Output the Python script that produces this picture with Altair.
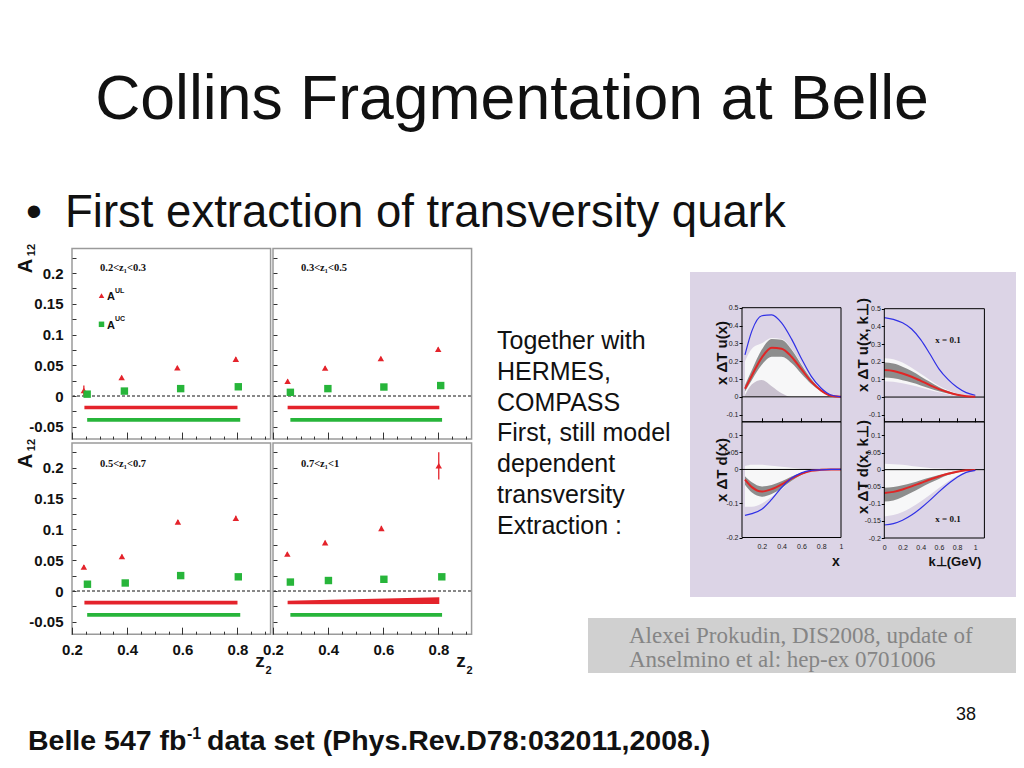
import altair as alt
import pandas as pd

# ---------------- canvas ----------------
W, H = 1008, 748
M = 8


def cx(p):
    return round(p - M, 2)


def cy(p):
    return round(p - M, 2)


SANS = "Liberation Sans"
SERIF = "Liberation Serif"
INK = "#111111"
RED = "#e4232b"
GREEN = "#27b53a"
FRAME = "#9a9a9a"

# ---------------- text content ----------------
title_text = "Collins Fragmentation at Belle"
bullet_text = "First extraction of transversity quark"
side_text = "Together with\nHERMES,\nCOMPASS\nFirst, still model\ndependent\ntransversity\nExtraction :"
cite_lines = ["Alexei Prokudin, DIS2008, update of", "Anselmino et al: hep-ex 0701006"]
page_no = "38"
foot_parts = ["Belle 547 fb", "-1", "data set (Phys.Rev.D78:032011,2008.)"]

# ---------------- Belle A12 data ----------------
panel_titles = ["0.2<z₁<0.3", "0.3<z₁<0.5", "0.5<z₁<0.7", "0.7<z₁<1"]
ul_z = [[0.243, 0.380, 0.582, 0.794], [0.253, 0.389, 0.591, 0.799],
        [0.243, 0.381, 0.584, 0.794], [0.252, 0.389, 0.593, 0.801]]
ul_a = [[0.009, 0.030, 0.046, 0.060], [0.024, 0.0455, 0.061, 0.076],
        [0.039, 0.056, 0.112, 0.118], [0.060, 0.0785, 0.1016, 0.203]]
ul_err = [[0.008, 0.003, 0.003, 0.003], [0.003, 0.003, 0.003, 0.003],
          [0.003, 0.003, 0.003, 0.004], [0.003, 0.003, 0.004, 0.022]]
uc_z = [[0.255, 0.390, 0.594, 0.803], [0.263, 0.399, 0.602, 0.808],
        [0.256, 0.393, 0.594, 0.803], [0.263, 0.401, 0.602, 0.812]]
uc_a = [[0.003, 0.008, 0.012, 0.015], [0.006, 0.012, 0.0146, 0.017],
        [0.011, 0.013, 0.025, 0.023], [0.0145, 0.017, 0.019, 0.023]]
red_band_z = [[0.245, 0.800], [0.253, 0.803], [0.245, 0.800], [0.253, 0.803]]
red_band_lo = [[-0.0217, -0.0217], [-0.0217, -0.0217], [-0.0217, -0.0217], [-0.0216, -0.0210]]
red_band_hi = [[-0.0157, -0.0157], [-0.0157, -0.0157], [-0.0157, -0.0157], [-0.0157, -0.0103]]
green_band_z = [[0.255, 0.810], [0.263, 0.813], [0.255, 0.810], [0.263, 0.813]]
green_band_lo = [[-0.0418, -0.0418]] * 4
green_band_hi = [[-0.0358, -0.0358]] * 4

belle_a_labels = [-0.05, 0, 0.05, 0.1, 0.15, 0.2]
belle_a_ticks = [-0.05, -0.025, 0.0, 0.025, 0.05, 0.075, 0.1, 0.125, 0.15, 0.175, 0.2, 0.225]
belle_z_labels = [0.2, 0.4, 0.6, 0.8]
belle_z_ticks = [0.2, 0.25, 0.3, 0.35, 0.4, 0.45, 0.5, 0.55, 0.6, 0.65, 0.7, 0.75, 0.8, 0.85, 0.9]
ZDOM = [0.2, 0.92]
ADOM = [-0.07, 0.24]

# ---------------- transversity curves ----------------
xg = [0.03, 0.1, 0.2, 0.3, 0.4, 0.5, 0.6, 0.7, 0.8, 0.9, 1.0]
kg = [0.0, 0.1, 0.2, 0.3, 0.4, 0.5, 0.6, 0.7, 0.8, 0.9, 1.0]

ux_blue = [0.235, 0.37, 0.455, 0.46, 0.415, 0.325, 0.215, 0.115, 0.048, 0.01, 0.0]
ux_red = [0.045, 0.12, 0.22, 0.275, 0.27, 0.225, 0.155, 0.085, 0.035, 0.006, 0.0]
ux_dark_hi = [0.065, 0.15, 0.265, 0.325, 0.32, 0.265, 0.18, 0.10, 0.04, 0.007, 0.0]
ux_dark_lo = [0.03, 0.095, 0.18, 0.225, 0.225, 0.19, 0.13, 0.072, 0.03, 0.005, 0.0]
ux_light_hi = [0.2, 0.27, 0.30, 0.33, 0.325, 0.27, 0.185, 0.105, 0.043, 0.008, 0.0]
ux_light_lo = [0.0, 0.0, 0.0, 0.0, 0.0, 0.0, 0.0, 0.0, 0.0, 0.0, 0.0]
ux_hump = [0.01, 0.07, 0.095, 0.06, 0.02, 0.0, 0.0, 0.0, 0.0, 0.0, 0.0]

uk_blue = [0.45, 0.44, 0.42, 0.385, 0.325, 0.245, 0.16, 0.10, 0.055, 0.025, 0.01]
uk_red = [0.153, 0.148, 0.133, 0.115, 0.092, 0.068, 0.045, 0.027, 0.013, 0.005, 0.002]
uk_dark_hi = [0.195, 0.19, 0.172, 0.147, 0.117, 0.086, 0.057, 0.034, 0.017, 0.007, 0.002]
uk_dark_lo = [0.11, 0.106, 0.095, 0.082, 0.066, 0.049, 0.033, 0.02, 0.01, 0.004, 0.001]
uk_light_hi = [0.22, 0.214, 0.195, 0.166, 0.132, 0.097, 0.064, 0.038, 0.019, 0.008, 0.002]
uk_light_lo = [0.09, 0.087, 0.078, 0.067, 0.054, 0.04, 0.027, 0.016, 0.008, 0.003, 0.001]

dx_blue = [-0.135, -0.13, -0.117, -0.088, -0.053, -0.026, -0.01, -0.003, -0.001, 0.0, 0.0]
dx_red = [-0.03, -0.052, -0.065, -0.058, -0.044, -0.027, -0.013, -0.004, -0.001, 0.0, 0.0]
dx_dark_hi = [-0.02, -0.038, -0.05, -0.046, -0.035, -0.021, -0.01, -0.003, -0.001, 0.0, 0.0]
dx_dark_lo = [-0.045, -0.068, -0.08, -0.072, -0.055, -0.034, -0.016, -0.005, -0.001, 0.0, 0.0]
dx_light_hi = [0.01, 0.014, 0.014, 0.011, 0.008, 0.005, 0.002, 0.001, 0.0, 0.0, 0.0]
dx_light_lo = [-0.11, -0.11, -0.10, -0.08, -0.058, -0.035, -0.017, -0.006, -0.001, 0.0, 0.0]

dk_blue = [-0.162, -0.158, -0.148, -0.133, -0.113, -0.09, -0.065, -0.042, -0.022, -0.008, -0.002]
dk_red = [-0.068, -0.065, -0.058, -0.049, -0.039, -0.029, -0.02, -0.012, -0.006, -0.002, -0.001]
dk_dark_hi = [-0.053, -0.051, -0.046, -0.039, -0.031, -0.023, -0.016, -0.009, -0.005, -0.002, -0.001]
dk_dark_lo = [-0.093, -0.09, -0.08, -0.067, -0.053, -0.039, -0.027, -0.016, -0.008, -0.003, -0.001]
dk_light_hi = [0.017, 0.016, 0.014, 0.011, 0.008, 0.005, 0.003, 0.002, 0.001, 0.0, 0.0]
dk_light_lo = [-0.137, -0.133, -0.124, -0.11, -0.093, -0.074, -0.054, -0.035, -0.018, -0.007, -0.002]

tmd_ylabels_top = [-0.1, 0, 0.1, 0.2, 0.3, 0.4, 0.5]
tmd_ylabels_bl = [-0.2, -0.1, 0, 0.05, 0.1]
tmd_ylabels_br = [-0.2, -0.15, -0.1, -0.05, 0, 0.05, 0.1]
tmd_xlabels_x = [0.2, 0.4, 0.6, 0.8, 1]
tmd_xlabels_k = [0, 0.2, 0.4, 0.6, 0.8, 1]

layers = []


def txt(s, x, y, size, font=SANS, weight="normal", color=INK, align="left",
        baseline="alphabetic", angle=0, **kw):
    props = dict(fontSize=size, font=font, fontWeight=weight, color=color,
                 align=align, baseline=baseline)
    if angle:
        props["angle"] = angle
    props.update(kw)
    return alt.Chart(pd.DataFrame({"t": [s]})).mark_text(**props).encode(
        x=alt.value(cx(x)), y=alt.value(cy(y)), text="t:N")


def box(x0, y0, x1, y1, color):
    return alt.Chart(pd.DataFrame({"k": [0]})).mark_rect(color=color).encode(
        x=alt.value(cx(x0)), x2=alt.value(cx(x1)), y=alt.value(cy(y0)), y2=alt.value(cy(y1)))


# ---------------- slide texts ----------------
layers.append(txt(title_text, 512, 119, 62.5, align="center"))
layers.append(txt("•", 34, 227, 45.5, align="center"))
layers.append(txt(bullet_text, 65, 227, 45.5))
layers.append(txt(side_text, 497, 349, 25, lineBreak="\n", lineHeight=30.8))

# ---------------- Belle panels ----------------
belle_col_x = [72, 273]
belle_row_zero = [396, 591]
belle_row_ppu = [615, 616.7]
Z_PPU = 275.8

for i in range(4):
    col, row = i % 2, i // 2
    xl = belle_col_x[col]
    xr = xl + (ZDOM[1] - ZDOM[0]) * Z_PPU
    zero = belle_row_zero[row]
    ppu = belle_row_ppu[row]
    yb = zero - ADOM[0] * ppu
    yt = zero - ADOM[1] * ppu
    xs = alt.Scale(domain=ZDOM, range=[cx(xl), cx(xr)], nice=False, zero=False)
    ys = alt.Scale(domain=ADOM, range=[cy(yb), cy(yt)], nice=False, zero=False)

    ax_left_lab = alt.Axis(orient="left", offset=-cx(xl), values=belle_a_labels,
                           labelExpr="toString(datum.value)", ticks=False, tickSize=0,
                           domain=False, grid=False, labelFont=SANS, labelFontSize=15,
                           labelFontWeight="bold", labelColor=INK, labelPadding=9,
                           labelOverlap=False, labelFlush=False, title=None, zindex=1)
    ax_left_tick = alt.Axis(orient="right", offset=cx(xl) - W, values=belle_a_ticks,
                            labels=False, domain=False, grid=False, ticks=True, tickSize=4,
                            tickColor="#333333", tickWidth=1, title=None, zindex=1)
    ax_bot_lab = alt.Axis(orient="bottom", offset=cy(yb) - H, values=belle_z_labels,
                          labelExpr="toString(datum.value)", ticks=False, tickSize=0,
                          domain=False, grid=False, labelFont=SANS, labelFontSize=15,
                          labelFontWeight="bold", labelColor=INK, labelPadding=8,
                          labelOverlap=False, labelFlush=False, title=None, zindex=1)
    ax_bot_tick = alt.Axis(orient="top", offset=-cy(yb), values=belle_z_ticks,
                           labels=False, domain=False, grid=False, ticks=True,
                           tickSize={"condition": {"test": "abs(datum.value*5 - round(datum.value*5)) < 0.001",
                                                   "value": 7}, "value": 3},
                           tickColor="#333333", tickWidth=1, title=None, zindex=1)

    frame_df = pd.DataFrame({"z0": [ZDOM[0]], "z1": [ZDOM[1]], "a0": [ADOM[0]], "a1": [ADOM[1]], "zero": [0.0]})

    # bands
    rb = pd.DataFrame({"z": red_band_z[i], "lo": red_band_lo[i], "hi": red_band_hi[i]})
    gb = pd.DataFrame({"z": green_band_z[i], "lo": green_band_lo[i], "hi": green_band_hi[i]})
    layers.append(alt.Chart(rb).mark_area(color=RED, opacity=1).encode(
        x=alt.X("z:Q", scale=xs, axis=None), y=alt.Y("lo:Q", scale=ys, axis=None), y2="hi:Q"))
    layers.append(alt.Chart(gb).mark_area(color=GREEN, opacity=1).encode(
        x=alt.X("z:Q", scale=xs, axis=None), y=alt.Y("lo:Q", scale=ys, axis=None), y2="hi:Q"))

    # zero line (carries inward tick axes)
    layers.append(alt.Chart(frame_df).mark_rule(color=INK, strokeWidth=1, strokeDash=[3, 2]).encode(
        x=alt.X("z0:Q", scale=xs, axis=ax_bot_tick), x2="z1:Q",
        y=alt.Y("zero:Q", scale=ys, axis=ax_left_tick)))

    # error bars + points
    ul = pd.DataFrame({"z": ul_z[i], "a": ul_a[i],
                       "lo": [a - e for a, e in zip(ul_a[i], ul_err[i])],
                       "hi": [a + e for a, e in zip(ul_a[i], ul_err[i])]})
    uc = pd.DataFrame({"z": uc_z[i], "a": uc_a[i]})
    layers.append(alt.Chart(ul).mark_rule(color=RED, strokeWidth=1.3).encode(
        x=alt.X("z:Q", scale=xs, axis=None), y=alt.Y("lo:Q", scale=ys, axis=None), y2="hi:Q"))
    layers.append(alt.Chart(ul).mark_point(shape="triangle-up", filled=True, size=42, color=RED, opacity=1).encode(
        x=alt.X("z:Q", scale=xs, axis=None), y=alt.Y("a:Q", scale=ys, axis=None)))
    layers.append(alt.Chart(uc).mark_point(shape="square", filled=True, size=55, color=GREEN, opacity=1).encode(
        x=alt.X("z:Q", scale=xs, axis=None), y=alt.Y("a:Q", scale=ys, axis=None)))

    # frame (carries label axes)
    layers.append(alt.Chart(frame_df).mark_rect(filled=False, stroke=FRAME, strokeWidth=1.5).encode(
        x=alt.X("z0:Q", scale=xs, axis=ax_bot_lab if row == 1 else None), x2="z1:Q",
        y=alt.Y("a0:Q", scale=ys, axis=ax_left_lab if col == 0 else None), y2="a1:Q"))

    # panel label
    layers.append(txt(panel_titles[i], xl + 28, 267.7 if row == 0 else 463.5,
                      10.5, font=SERIF, weight="bold", baseline="middle"))

# legend in first panel
layers.append(alt.Chart(pd.DataFrame({"k": [0]})).mark_point(
    shape="triangle-up", filled=True, size=30, color=RED, opacity=1).encode(
    x=alt.value(cx(101.5)), y=alt.value(cy(295.7))))
layers.append(alt.Chart(pd.DataFrame({"k": [0]})).mark_point(
    shape="square", filled=True, size=30, color=GREEN, opacity=1).encode(
    x=alt.value(cx(101.5)), y=alt.value(cy(324.3))))
layers.append(txt("A", 107, 300, 11, weight="bold"))
layers.append(txt("UL", 115, 292.5, 7, weight="bold"))
layers.append(txt("A", 107, 328.5, 11, weight="bold"))
layers.append(txt("UC", 115, 321, 7, weight="bold"))

# axis titles A12 and z2
for yA, y12 in [(266, 250), (461, 445)]:
    layers.append(txt("A", 26, yA, 20, weight="bold", align="center", baseline="middle", angle=270))
    layers.append(txt("12", 32, y12, 11, weight="bold", align="center", baseline="middle", angle=270))
for xz in [260, 461]:
    layers.append(txt("z", xz, 667, 19, weight="bold", align="center"))
    layers.append(txt("2", xz + 8.5, 674, 11, weight="bold", align="center"))

# ---------------- transversity box ----------------
layers.append(box(690, 272, 1018, 597, "#dcd4e6"))

tmd_panels = [
    dict(xv=xg, xdom=[0, 1], xl=742, xr=841, ydom=[-0.14, 0.5], yb=421.8, yt=307.7,
         blue=ux_blue, red=ux_red, dhi=ux_dark_hi, dlo=ux_dark_lo, lhi=ux_light_hi, llo=ux_light_lo,
         hump=ux_hump, ylab=tmd_ylabels_top, xlab=None, xtick=[0.2, 0.4, 0.6, 0.8]),
    dict(xv=kg, xdom=[0, 1.1], xl=884.3, xr=984.4, ydom=[-0.14, 0.5], yb=421.8, yt=308.7,
         blue=uk_blue, red=uk_red, dhi=uk_dark_hi, dlo=uk_dark_lo, lhi=uk_light_hi, llo=uk_light_lo,
         hump=None, ylab=tmd_ylabels_top, xlab=None, xtick=[0, 0.2, 0.4, 0.6, 0.8, 1]),
    dict(xv=xg, xdom=[0, 1], xl=742, xr=841, ydom=[-0.2, 0.14], yb=537.5, yt=421.8,
         blue=dx_blue, red=dx_red, dhi=dx_dark_hi, dlo=dx_dark_lo, lhi=dx_light_hi, llo=dx_light_lo,
         hump=None, ylab=tmd_ylabels_bl, xlab=tmd_xlabels_x, xtick=None),
    dict(xv=kg, xdom=[0, 1.1], xl=884.3, xr=984.4, ydom=[-0.2, 0.14], yb=538, yt=421.8,
         blue=dk_blue, red=dk_red, dhi=dk_dark_hi, dlo=dk_dark_lo, lhi=dk_light_hi, llo=dk_light_lo,
         hump=None, ylab=tmd_ylabels_br, xlab=tmd_xlabels_k, xtick=None),
]

for p in tmd_panels:
    xs = alt.Scale(domain=p["xdom"], range=[cx(p["xl"]), cx(p["xr"])], nice=False, zero=False)
    ys = alt.Scale(domain=p["ydom"], range=[cy(p["yb"]), cy(p["yt"])], nice=False, zero=False)
    df = pd.DataFrame({"x": p["xv"], "blue": p["blue"], "red": p["red"], "dhi": p["dhi"], "dlo": p["dlo"],
                       "lhi": p["lhi"], "llo": p["llo"], "base": [0.0] * len(p["xv"])})
    if p["hump"] is not None:
        df["hump"] = p["hump"]
    fr = pd.DataFrame({"x0": [p["xdom"][0]], "x1": [p["xdom"][1]],
                       "y0": [p["ydom"][0]], "y1": [p["ydom"][1]], "zero": [0.0]})

    def X(f, ax=None, _xs=xs):
        return alt.X(f, scale=_xs, axis=ax)

    def Y(f, ax=None, _ys=ys):
        return alt.Y(f, scale=_ys, axis=ax)

    layers.append(alt.Chart(df).mark_area(color="#f7f7f8", opacity=1, interpolate="monotone").encode(
        x=X("x:Q"), y=Y("llo:Q"), y2="lhi:Q"))
    if p["hump"] is not None:
        layers.append(alt.Chart(df).mark_area(color="#c9c1cf", opacity=1, interpolate="monotone").encode(
            x=X("x:Q"), y=Y("base:Q"), y2="hump:Q"))
    layers.append(alt.Chart(df).mark_area(color="#8d8d8d", opacity=1, interpolate="monotone").encode(
        x=X("x:Q"), y=Y("dlo:Q"), y2="dhi:Q"))

    tick_ax = None
    if p["xtick"] is not None:
        tick_ax = alt.Axis(orient="top", offset=-cy(p["yb"]), values=p["xtick"], labels=False,
                           domain=False, grid=False, ticks=True, tickSize=4, tickColor="black",
                           tickWidth=1, title=None, zindex=1)
    layers.append(alt.Chart(fr).mark_rule(color="black", strokeWidth=1).encode(
        x=X("x0:Q", tick_ax), x2="x1:Q", y=Y("zero:Q")))

    layers.append(alt.Chart(df).mark_line(color="#e02626", strokeWidth=2, interpolate="monotone").encode(
        x=X("x:Q"), y=Y("red:Q")))
    layers.append(alt.Chart(df).mark_line(color="#3030e6", strokeWidth=1.2, interpolate="monotone").encode(
        x=X("x:Q"), y=Y("blue:Q")))

    yax = alt.Axis(orient="left", offset=-cx(p["xl"]), values=p["ylab"], labelExpr="toString(datum.value)",
                   ticks=True, tickSize=3, tickColor="black", domain=False, grid=False, labelFont=SANS,
                   labelFontSize=7, labelColor="#222222", labelPadding=1, labelOverlap=False,
                   labelFlush=False, title=None, zindex=1)
    xax = None
    if p["xlab"] is not None:
        xax = alt.Axis(orient="bottom", offset=cy(p["yb"]) - H, values=p["xlab"],
                       labelExpr="toString(datum.value)", ticks=False, tickSize=0, domain=False, grid=False,
                       labelFont=SANS, labelFontSize=7, labelColor="#222222", labelPadding=5,
                       labelOverlap=False, labelFlush=False, title=None, zindex=1)
    layers.append(alt.Chart(fr).mark_rect(filled=False, stroke="black", strokeWidth=1).encode(
        x=X("x0:Q", xax), x2="x1:Q", y=Y("y0:Q", yax), y2="y1:Q"))

# TMD panel texts
layers.append(txt("x ΔT u(x)", 722, 353, 15, weight="bold", align="center", baseline="middle", angle=270))
layers.append(txt("x ΔT d(x)", 722, 470, 15, weight="bold", align="center", baseline="middle", angle=270))
layers.append(txt("x ΔT u(x, k⊥)", 863, 345, 15, weight="bold", align="center", baseline="middle", angle=270))
layers.append(txt("x ΔT d(x, k⊥)", 863, 467, 15, weight="bold", align="center", baseline="middle", angle=270))
layers.append(txt("x", 836, 566, 14, weight="bold", align="center"))
layers.append(txt("k⊥(GeV)", 955, 566, 13, weight="bold", align="center"))
layers.append(txt("x = 0.1", 948, 343, 9, font=SERIF, weight="bold", align="center"))
layers.append(txt("x = 0.1", 948, 522, 9, font=SERIF, weight="bold", align="center"))

# ---------------- citation box, page number, footer ----------------
layers.append(box(588, 618, 1022, 673, "#d0d0d0"))
layers.append(txt(cite_lines[0], 629, 642.5, 23, font=SERIF, color="#858585"))
layers.append(txt(cite_lines[1], 629, 667, 23, font=SERIF, color="#858585"))
layers.append(txt(page_no, 966, 720, 18, align="center"))
layers.append(txt(foot_parts[0], 28, 750, 28.5, weight="bold"))
layers.append(txt(foot_parts[1], 187, 739, 16, weight="bold"))
layers.append(txt(foot_parts[2], 207, 750, 28.5, weight="bold"))

chart = alt.layer(*layers).resolve_scale(x="independent", y="independent").properties(
    width=W, height=H, autosize=alt.AutoSizeParams(type="none"), padding=0
).configure_view(strokeWidth=0)

chart.save("out.html", embed_options={"renderer": "svg", "actions": False})
